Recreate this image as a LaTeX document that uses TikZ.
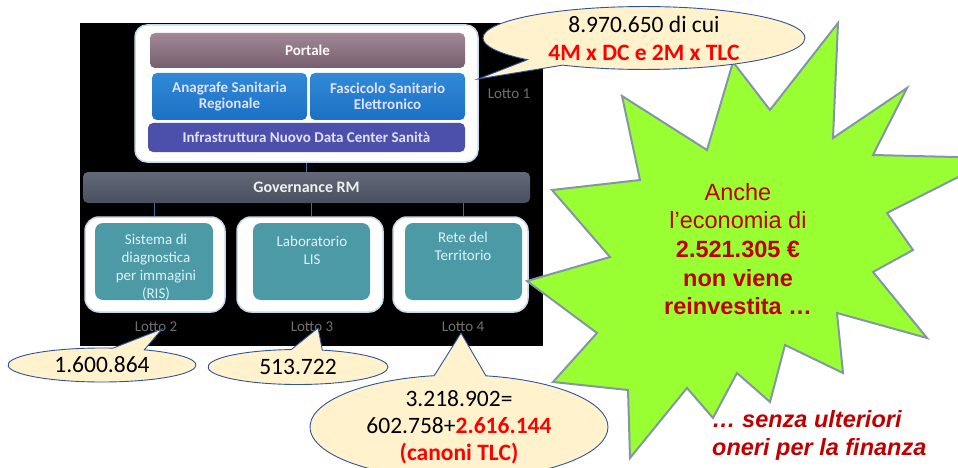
\documentclass[tikz,border=0pt]{standalone}
\usepackage{fontspec}
\setmainfont{Carlito}
\newfontfamily\arialf{Liberation Sans}
\usetikzlibrary{shapes.callouts,shapes.geometric}

\definecolor{portaletop}{RGB}{160,136,150}
\definecolor{portalebot}{RGB}{118,94,110}
\definecolor{bluetop}{RGB}{48,138,215}
\definecolor{bluebot}{RGB}{28,112,196}
\definecolor{infracol}{RGB}{76,80,170}
\definecolor{govtop}{RGB}{98,106,122}
\definecolor{govbot}{RGB}{72,80,96}
\definecolor{tealcol}{RGB}{76,154,165}
\definecolor{glow}{RGB}{196,216,238}
\definecolor{lottogrey}{RGB}{112,112,112}
\definecolor{linkblue}{RGB}{60,110,160}
\definecolor{cream}{RGB}{255,242,204}
\definecolor{calloutedge}{RGB}{47,85,151}
\definecolor{starfill}{RGB}{153,255,51}
\definecolor{staredge}{RGB}{132,150,166}
\definecolor{darkred}{RGB}{192,0,0}
\definecolor{brightred}{RGB}{255,0,0}

\begin{document}
\begin{tikzpicture}[x=1pt,y=-1pt,
  whitebox/.style={fill=white,draw=glow,line width=1.5pt,rounded corners=12pt,inner sep=0pt},
  bar/.style={rounded corners=5pt,inner sep=0pt,align=center,
    font=\fontsize{15}{16}\selectfont\bfseries},
  bluebox/.style={bar,top color=bluetop,bottom color=bluebot,text=white!88!blue},
  tealbox/.style={rounded corners=8pt,fill=tealcol,inner sep=0pt},
  boxtext/.style={align=center,inner sep=0pt,text=white!85!cyan,
    font=\fontsize{15}{18}\selectfont},
  lotto/.style={text=lottogrey,inner sep=0pt,font=\fontsize{15}{16}\selectfont},
  link/.style={draw=linkblue,line width=1pt},
  bubble/.style={ellipse callout,fill=cream,draw=calloutedge,line width=0.9pt,
    inner sep=0pt,align=center,callout pointer arc=20,
    font=\fontsize{23.5}{28}\selectfont},
]
\useasboundingbox (0,0) rectangle (958,468);
\clip (0,0) rectangle (958,468);

% dark backdrop of the architecture scheme
\fill[black] (80,23) rectangle (543,346);

% Lotto 1 block
\node[whitebox,minimum width=343pt,minimum height=137pt] (lot1) at (306.5,93.5) {};
\node[bar,top color=portaletop,bottom color=portalebot,text=white!88!pink,
  minimum width=315pt,minimum height=35pt] (portale) at (307.5,50.5) {Portale};
\node[bluebox,minimum width=155pt,minimum height=47pt] (asr) at (229.5,96.5)
  {Anagrafe Sanitaria\\Regionale};
\node[bluebox,minimum width=155pt,minimum height=47pt] (fse) at (387.5,96.5)
  {Fascicolo Sanitario\\Elettronico};
\node[bar,fill=infracol,text=white!88!blue,minimum width=317pt,minimum height=29pt]
  (dc) at (306.5,137.5) {Infrastruttura Nuovo Data Center Sanità};
\node[lotto] (lotto1) at (509,94) {Lotto 1};

% governance layer
\node[bar,top color=govtop,bottom color=govbot,text=white!88!gray,
  font=\fontsize{16}{17}\selectfont\bfseries,
  minimum width=447pt,minimum height=31pt] (gov) at (306.5,187.5) {Governance RM};
\draw[link] (lot1.south) -- (gov.north);

% lower lots: outer frames
\node[whitebox,rounded corners=14pt,minimum width=140pt,minimum height=95pt] (lot2) at (155,264.5) {};
\node[whitebox,rounded corners=14pt,minimum width=146pt,minimum height=95pt] (lot3) at (310,264.5) {};
\node[whitebox,rounded corners=14pt,minimum width=135pt,minimum height=95pt] (lot4) at (460.5,264.5) {};
\node[tealbox,minimum width=118pt,minimum height=77pt] (ris) at (154,261.5) {};
\node[tealbox,minimum width=117pt,minimum height=77pt] (lis) at (311.5,261.5) {};
\node[tealbox,minimum width=117pt,minimum height=77pt] (ter) at (463.5,261.5) {};
\draw[link] (gov.south -| ris.north) -- (ris.north |- lot2.north);
\draw[link] (gov.south -| lis.north) -- (lis.north |- lot3.north);
\draw[link] (gov.south -| ter.north) -- (ter.north |- lot4.north);

\node[boxtext,anchor=north] (ristxt) at (156,234)
  {Sistema di\\diagnostica\\per immagini\\(RIS)};
\node[boxtext,anchor=north] (listxt) at (312,236) {Laboratorio\\LIS};
\node[boxtext,anchor=north] (tertxt) at (463,232) {Rete del\\Territorio};

\node[lotto] (lotto2) at (156,327) {Lotto 2};
\node[lotto] (lotto3) at (312,327) {Lotto 3};
\node[lotto] (lotto4) at (463,327) {Lotto 4};

% starburst
\filldraw[fill=starfill,draw=staredge,line width=2pt,line join=miter]
  (838,23) -- (833,138) -- (907,88) -- (873,155) -- (996,158) -- (887,213)
  -- (913,250) -- (873,272) -- (927,338) -- (837,313) -- (843,373) -- (785,345)
  -- (770,402) -- (737,373) -- (713,418) -- (687,388) -- (630,458) -- (628,390)
  -- (553,382) -- (597,333) -- (527,281) -- (610,257) -- (552,190) -- (640,180)
  -- (622,96) -- (707,150) -- (733,62) -- (770,110) -- cycle;

% cost callouts
\node[bubble,callout pointer arc=16,callout absolute pointer={(478,79)},
  minimum width=322pt,minimum height=60pt] (costo1) at (644,38)
  {8.970.650 di cui\\\textcolor{brightred}{\bfseries 4M x DC e 2M x TLC}};
\node[bubble,callout absolute pointer={(162,329)},
  minimum width=188pt,minimum height=34pt] (costo2) at (102,365) {1.600.864};
\node[bubble,callout absolute pointer={(318,328)},
  minimum width=180pt,minimum height=35pt] (costo3) at (298,367) {513.722};
\node[bubble,callout absolute pointer={(461,333)},
  font=\fontsize{23.5}{27}\selectfont,
  minimum width=298pt,minimum height=100pt] (costo4) at (459,427)
  {3.218.902=\\602.758+\textcolor{brightred}{\bfseries 2.616.144}\\
   \textcolor{brightred}{\bfseries (canoni TLC)}};

% starburst message
\node[align=center,inner sep=0pt,text=darkred,
  font=\arialf\fontsize{23.5}{28.7}\selectfont] (msg) at (738,249)
  {Anche\\l’economia di\\\textbf{2.521.305 €}\\\textbf{non viene}\\\textbf{reinvestita …}};

\node[align=left,inner sep=0pt,anchor=north west,text=darkred,
  font=\arialf\fontsize{23.5}{28}\selectfont\bfseries\itshape] (nota) at (712,410)
  {… senza ulteriori\\oneri per la finanza};
\end{tikzpicture}
\end{document}
